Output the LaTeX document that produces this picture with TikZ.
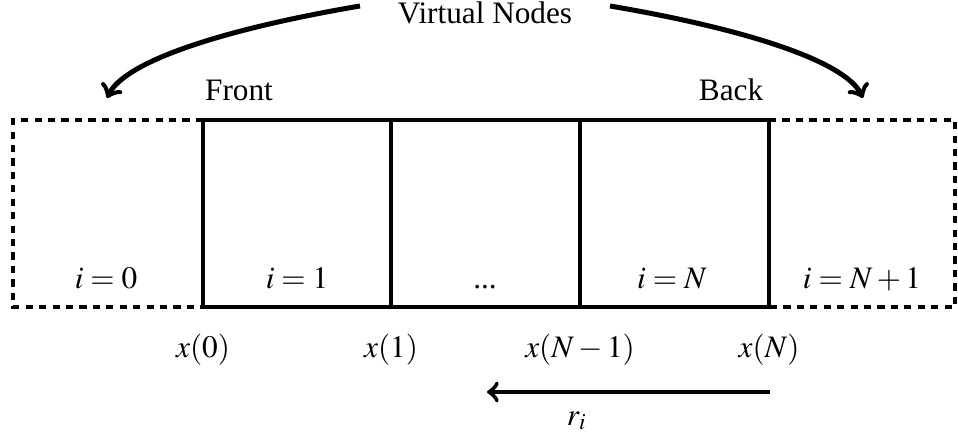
\documentclass[tikz,border=0pt]{standalone}
\usepackage{mathptmx}
\usepackage[no-math]{fontspec}
\setmainfont{Liberation Serif}
\usepackage{tikz}
\usetikzlibrary{arrows}

\tikzset{
  cellwall/.style={black, line width=1.3pt},
  virtwall/.style={black, line width=1.2pt, dash pattern=on 2.3pt off 2pt},
  virtarrow/.style={black, line width=1.6pt, ->},
  flowarrow/.style={black, line width=1.4pt, ->},
  celltext/.style={anchor=base, inner sep=0pt}
}

\begin{document}
\begin{tikzpicture}[x=0.32pt, y=-0.32pt]
\useasboundingbox (0,0) rectangle (958,438);

% cells
\draw[cellwall] (203,120) rectangle (769,307);
\draw[cellwall] (391,120) -- (391,307);
\draw[cellwall] (580,120) -- (580,307);
\draw[virtwall] (203,120) -- (13,120) -- (13,307) -- (203,307);
\draw[virtwall] (769,120) -- (955,120) -- (955,307) -- (769,307);

% labels
\node[celltext] (vn) at (485,23) {Virtual Nodes};
\node[celltext] (front) at (239,100) {Front};
\node[celltext] (back) at (731,100) {Back};
\node[celltext] (c0) at (106,288) {$i=0$};
\node[celltext] (c1) at (297,288) {$i=1$};
\node[celltext] (cdots) at (485,288) {...};
\node[celltext] (cN) at (672,288) {$i=N$};
\node[celltext] (cN1) at (862,288) {$i=N+1$};
\node[celltext] (x0) at (203,357) {$x(0)$};
\node[celltext] (x1) at (391,357) {$x(1)$};
\node[celltext] (xN1) at (580,357) {$x(N-1)$};
\node[celltext] (xN) at (769,357) {$x(N)$};
\node[celltext] (ri) at (577,425) {$r_i$};

% arrows
\coordinate (vnl) at (360,6);
\coordinate (vnr) at (610,6);
\coordinate (virtl) at (107,98);
\coordinate (virtr) at (863,98);
\draw[virtarrow] (vnl) .. controls (230,28) and (125,60) .. (virtl);
\draw[virtarrow] (vnr) .. controls (740,28) and (845,60) .. (virtr);
\coordinate (rs) at (770,392);
\coordinate (re) at (487,392);
\draw[flowarrow] (rs) -- (re);
\end{tikzpicture}
\end{document}
